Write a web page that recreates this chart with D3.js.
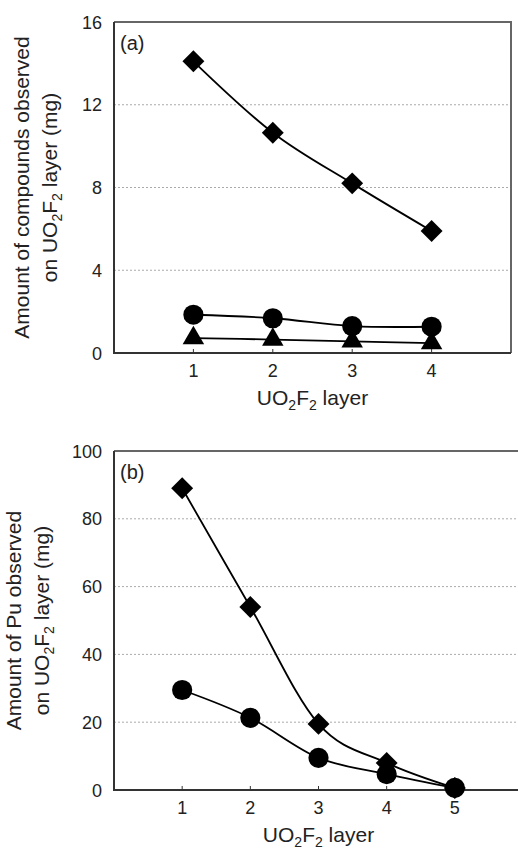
<!DOCTYPE html>
<html lang="en">
<head>
  <meta charset="utf-8" />
  <title>UO2F2 layer chart</title>
  <script src="https://d3js.org/d3.v7.min.js"></script>
  <style>
    body { margin: 0; background: #fff; }
    svg text { font-family: "Liberation Sans", Arial, sans-serif; fill: #222; }
  </style>
</head>
<body>
<script>
  // panel (a) data
  var layersA = [1, 2, 3, 4];
  var aDiamond = [14.1, 10.65, 8.2, 5.9];
  var aCircle = [1.85, 1.68, 1.3, 1.27];
  var aTriangle = [0.72, 0.65, 0.56, 0.48];
  var aYTicks = [0, 4, 8, 12, 16];

  // panel (b) data
  var layersB = [1, 2, 3, 4, 5];
  var bDiamond = [89, 54, 19.5, 8, 0.6];
  var bCircle = [29.5, 21.3, 9.5, 4.7, 0.6];
  var bYTicks = [0, 20, 40, 60, 80, 100];

  var W = 518, H = 851;
  var svg = d3.select("body").append("svg")
    .attr("width", W)
    .attr("height", H);

  function sub(t, s) {
    // pieces: [str, isSub, backUp]
    s.forEach(function(p) {
      t.append("tspan")
        .attr("font-size", p[1] ? "14px" : null)
        .attr("dy", p[1] ? "5" : (p[2] ? "-5" : null))
        .text(p[0]);
    });
  }

  function panel(o) {
    var x = d3.scaleLinear().domain(o.xDomain).range([o.left, o.right]);
    var y = d3.scaleLinear().domain(o.yDomain).range([o.bottom, o.top]);
    var g = svg.append("g");

    // gridlines
    g.selectAll("line.grid")
      .data(o.yTicks.filter(function(d) { return d > o.yDomain[0] && d < o.yDomain[1]; }))
      .enter().append("line")
      .attr("x1", o.left).attr("x2", o.right)
      .attr("y1", function(d) { return y(d); })
      .attr("y2", function(d) { return y(d); })
      .attr("stroke", "#aaa")
      .attr("stroke-width", 1)
      .attr("stroke-dasharray", "2,2");

    // frame: top and right grey
    g.append("path")
      .attr("d", "M" + o.left + "," + o.top + "H" + o.right + "V" + o.bottom)
      .attr("fill", "none")
      .attr("stroke", "#666")
      .attr("stroke-width", 2);

    // y tick labels
    g.selectAll("text.yt")
      .data(o.yTicks)
      .enter().append("text")
      .attr("x", o.left - 12)
      .attr("y", function(d) { return y(d) + 6.5; })
      .attr("text-anchor", "end")
      .attr("font-size", "18px")
      .text(function(d) { return d; });

    // x ticks (inward) and labels
    g.selectAll("line.xt")
      .data(o.xTicks)
      .enter().append("line")
      .attr("x1", function(d) { return x(d); })
      .attr("x2", function(d) { return x(d); })
      .attr("y1", o.bottom).attr("y2", o.bottom - 4)
      .attr("stroke", "#333");
    g.selectAll("text.xt")
      .data(o.xTicks)
      .enter().append("text")
      .attr("x", function(d) { return x(d); })
      .attr("y", o.bottom + 24)
      .attr("text-anchor", "middle")
      .attr("font-size", "18px")
      .text(function(d) { return d; });

    // left + bottom axis lines
    g.append("path")
      .attr("d", "M" + o.left + "," + o.top + "V" + o.bottom + "H" + o.right)
      .attr("fill", "none")
      .attr("stroke", "#333")
      .attr("stroke-width", 2);

    // panel label
    g.append("text")
      .attr("x", o.left + 6).attr("y", o.top + 28)
      .attr("font-size", "20px")
      .text(o.tag);

    // x axis title
    var xt = g.append("text")
      .attr("x", (o.left + o.right) / 2)
      .attr("y", o.bottom + 52)
      .attr("text-anchor", "middle")
      .attr("font-size", "21px");
    sub(xt, [["UO"], ["2", 1], ["F", 0, 1], ["2", 1], [" layer", 0, 1]]);

    // y axis title, two lines
    var cy = (o.top + o.bottom) / 2;
    g.append("text")
      .attr("transform", "translate(" + o.yl1 + "," + cy + ") rotate(-90)")
      .attr("text-anchor", "middle")
      .attr("font-size", "21px")
      .text(o.ytitle);
    var l2 = g.append("text")
      .attr("transform", "translate(" + o.yl2 + "," + cy + ") rotate(-90)")
      .attr("text-anchor", "middle")
      .attr("font-size", "21px");
    sub(l2, [["on UO"], ["2", 1], ["F", 0, 1], ["2", 1], [" layer (mg)", 0, 1]]);

    // series
    var line = d3.line()
      .x(function(d) { return x(d[0]); })
      .y(function(d) { return y(d[1]); })
      .curve(d3.curveCatmullRom.alpha(0));

    o.series.forEach(function(s) {
      var pts = o.layers.map(function(l, i) { return [l, s.values[i]]; });
      g.append("path")
        .attr("d", line(pts))
        .attr("fill", "none")
        .attr("stroke", "#000")
        .attr("stroke-width", 1.8);
    });
    o.series.forEach(function(s) {
      var pts = o.layers.map(function(l, i) { return [l, s.values[i]]; });
      g.selectAll(null)
        .data(pts)
        .enter().append("path")
        .attr("d", d3.symbol().type(s.sym).size(s.size))
        .attr("transform", function(d) {
          return "translate(" + x(d[0]) + "," + y(d[1]) + ")" + (s.rot ? " rotate(45)" : "");
        })
        .attr("fill", "#000");
    });
  }

  panel({
    tag: "(a)",
    left: 114, right: 511, top: 22, bottom: 353,
    xDomain: [0, 5], yDomain: [0, 16],
    xTicks: layersA, yTicks: aYTicks, layers: layersA,
    ytitle: "Amount of compounds observed", yl1: 29, yl2: 57,
    series: [
      { values: aTriangle, sym: d3.symbolTriangle, size: 200 },
      { values: aCircle, sym: d3.symbolCircle, size: 320 },
      { values: aDiamond, sym: d3.symbolSquare, size: 240, rot: true }
    ]
  });

  panel({
    tag: "(b)",
    left: 114, right: 523, top: 451, bottom: 790,
    xDomain: [0, 6], yDomain: [0, 100],
    xTicks: layersB, yTicks: bYTicks, layers: layersB,
    ytitle: "Amount of Pu observed", yl1: 21, yl2: 49,
    series: [
      { values: bDiamond, sym: d3.symbolSquare, size: 240, rot: true },
      { values: bCircle, sym: d3.symbolCircle, size: 320 }
    ]
  });
</script>
</body>
</html>
